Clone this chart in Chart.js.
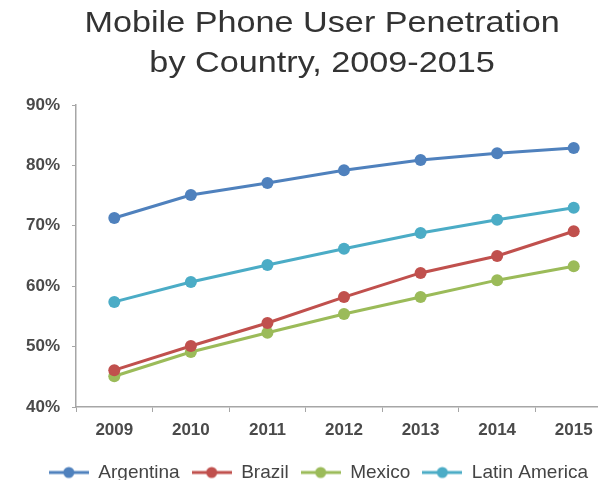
<!DOCTYPE html>
<html>
<head>
<meta charset="utf-8">
<script src="https://cdn.jsdelivr.net/npm/chart.js@4.4.0/dist/chart.umd.min.js"></script>
<style>
  html, body { margin: 0; padding: 0; background: #fff; }
  #wrap { position: relative; width: 598px; height: 480px; overflow: hidden; }
  #title {
    position: absolute; top: 2px; left: 0; width: 644px;
    text-align: center; font-family: "Liberation Sans", Arial, sans-serif;
    font-size: 30px; line-height: 40px; color: #333;
    transform: scaleX(1.14); transform-origin: 0 0;
    margin-left: -45px;
  }
  #chartbox { position: absolute; top: 0; left: 0; width: 640px; height: 492px; }
</style>
</head>
<body>
<div id="wrap">
  <div id="chartbox"><canvas id="myChart" width="640" height="492"></canvas></div>
  <div id="title">Mobile Phone User Penetration<br>by Country, 2009-2015</div>
</div>
<script>
// DATA
const years = ["2009", "2010", "2011", "2012", "2013", "2014", "2015"];
const argentina = [71.3, 75.1, 77.1, 79.2, 80.9, 82.0, 82.9];
const brazil = [46.1, 50.1, 53.9, 58.2, 62.2, 65.0, 69.1];
const mexico = [45.1, 49.1, 52.3, 55.4, 58.2, 61.0, 63.3];
const latinAmerica = [57.4, 60.7, 63.5, 66.2, 68.8, 71.0, 73.0];
const yTicks = [40, 50, 60, 70, 80, 90];

const colors = {
  argentina: "#4f81bd",
  brazil: "#c0504d",
  mexico: "#9bbb59",
  latin: "#4bacc6",
};

// legend marker: line with a dot in the middle
function marker(color) {
  const c = document.createElement("canvas");
  c.width = 40;
  c.height = 14;
  const ctx = c.getContext("2d");
  ctx.strokeStyle = color;
  ctx.lineWidth = 3;
  ctx.beginPath();
  ctx.moveTo(0, 7);
  ctx.lineTo(40, 7);
  ctx.stroke();
  ctx.fillStyle = color;
  ctx.beginPath();
  ctx.arc(20, 7, 5.5, 0, Math.PI * 2);
  ctx.fill();
  return c;
}

function series(label, values, color) {
  return {
    label: label,
    data: values,
    borderColor: color,
    backgroundColor: color,
    borderWidth: 3,
    pointRadius: 6,
    pointHoverRadius: 6,
    pointBorderWidth: 0,
    tension: 0,
  };
}

const data = {
  labels: years,
  datasets: [
    series("Argentina", argentina, colors.argentina),
    series("Brazil", brazil, colors.brazil),
    series("Mexico", mexico, colors.mexico),
    series("Latin America", latinAmerica, colors.latin),
  ],
};

const axisColor = "#a6a6a6";
const tickFont = { family: "'Liberation Sans', Arial, sans-serif", size: 17, weight: "bold" };

// the legend sits a little left of the plot's right edge
const legendShift = {
  id: "legendShift",
  beforeDraw(chart) {
    chart.legend.right = chart.chartArea.right - 12;
  },
};

const config = {
  type: "line",
  data,
  plugins: [legendShift],
  options: {
    responsive: false,
    animation: false,
    layout: { padding: { top: 105, right: 28, left: 0, bottom: 0 } },
    scales: {
      x: {
        offset: true,
        grid: {
          offset: true,
          drawOnChartArea: false,
          tickLength: 5,
          color: axisColor,
        },
        border: { color: axisColor, width: 1.5 },
        ticks: { color: "#4a4a4a", font: tickFont, padding: 8 },
        afterFit: (scale) => { scale.height = 44; },
      },
      y: {
        min: 40,
        max: 90,
        afterBuildTicks: (scale) => {
          scale.ticks = yTicks.map((v) => ({ value: v }));
        },
        grid: {
          drawOnChartArea: false,
          tickLength: 4,
          color: axisColor,
        },
        border: { color: axisColor, width: 1.5 },
        ticks: {
          color: "#4a4a4a",
          font: tickFont,
          padding: 12,
          callback: (v) => v + "%",
        },
        afterFit: (scale) => { scale.width = 76; },
      },
    },
    plugins: {
      title: { display: false },
      tooltip: { enabled: false },
      legend: {
        position: "bottom",
        align: "end",
        labels: {
          color: "#444",
          font: { family: "'Liberation Sans', Arial, sans-serif", size: 19 },
          usePointStyle: true,
          pointStyleWidth: 40,
          boxHeight: 14,
          padding: 12,
          generateLabels: (chart) => {
            const items = Chart.defaults.plugins.legend.labels.generateLabels(chart);
            items.forEach((item, i) => {
              item.pointStyle = marker(chart.data.datasets[i].borderColor);
            });
            return items;
          },
        },
      },
    },
  },
};

var myChart = new Chart(document.getElementById("myChart"), config);
</script>
</body>
</html>
